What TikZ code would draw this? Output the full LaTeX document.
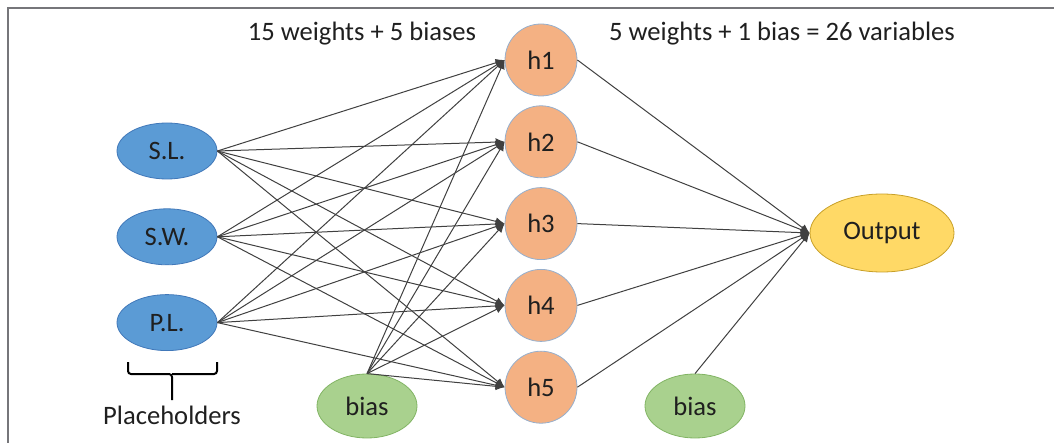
\documentclass[tikz,border=0pt]{standalone}
\usepackage{fontspec}
\setmainfont{Carlito}
\usetikzlibrary{positioning,arrows.meta,shapes.geometric}
\definecolor{incol}{RGB}{91,155,213}
\definecolor{inedge}{RGB}{65,120,185}
\definecolor{hidcol}{RGB}{244,177,131}
\definecolor{hidedge}{RGB}{150,175,205}
\definecolor{outcol}{RGB}{255,217,102}
\definecolor{outedge}{RGB}{200,160,40}
\definecolor{biascol}{RGB}{169,209,142}
\definecolor{biasedge}{RGB}{130,180,100}
\definecolor{framecol}{RGB}{118,118,122}

\begin{document}
\begin{tikzpicture}[
  x=0.5pt, y=-0.5pt,
  every node/.style={font=\fontsize{13.3}{16}\selectfont, text=black!88},
  inp/.style={ellipse, draw=inedge, fill=incol, minimum width=50pt, minimum height=28pt, inner sep=0pt},
  hid/.style={circle, draw=hidedge, fill=hidcol, minimum size=36pt, inner sep=0pt},
  outp/.style={ellipse, draw=outedge, fill=outcol, minimum width=72pt, minimum height=39pt, inner sep=0pt},
  bias/.style={ellipse, draw=biasedge, fill=biascol, minimum width=50pt, minimum height=32pt, inner sep=0pt},
  wire/.style={-{Latex[length=4.5pt,width=4pt]}, black!75, line width=0.5pt}
]
\useasboundingbox (0,0) rectangle (1054,443);

% frame
\draw[framecol, line width=1.2pt] (8,443) -- (8,8) -- (1054,8);

% ---------------- inputs ----------------
\node[inp] (sl) at (167,151) {S.L.};
\node[inp, below=14.5pt of sl] (sw) {S.W.};
\node[inp, below=14.5pt of sw] (pl) {P.L.};

% placeholder brace
\draw[line width=1pt, rounded corners=1.5pt] (128,362) |- (172,374) -- (172,400);
\draw[line width=1pt, rounded corners=1.5pt] (217,362) |- (172,374);
\node (ph) at (172,415) {Placeholders};

% ---------------- hidden layer ----------------
\node[hid] (h1) at (541,60) {h1};
\node[hid, below=4.5pt of h1] (h2) {h2};
\node[hid, below=4.5pt of h2] (h3) {h3};
\node[hid, below=4.5pt of h3] (h4) {h4};
\node[hid, below=4.5pt of h4] (h5) {h5};

\node[bias] (b1) at (367,406) {bias};

% ---------------- output ----------------
\node[outp] (out) at (882,233) {Output};
\node[bias] (b2) at (695,406) {bias};

% counts
\node (cnt1) at (362,34) {15 weights + 5 biases};
\node (cnt2) at (782,34) {5 weights + 1 bias = 26 variables};

% ---------------- arrows ----------------
\foreach \h in {h1,h2,h3,h4,h5}{
  \foreach \i in {sl,sw,pl}
    \draw[wire] (\i.east) -- (\h.west);
  \draw[wire] (b1.north) -- (\h.west);
  \draw[wire] (\h.east) -- (out.west);
}
\draw[wire] (b2.north) -- (out.west);

\end{tikzpicture}
\end{document}
